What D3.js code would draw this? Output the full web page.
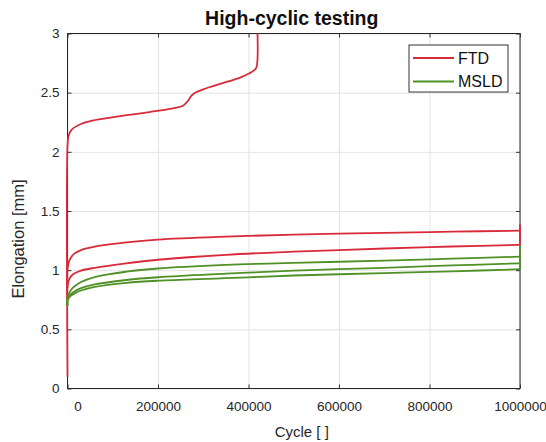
<!DOCTYPE html>
<html>
<head>
<meta charset="utf-8">
<style>
  body { margin: 0; background: #fff; }
  svg { font-family: "Liberation Sans", Arial, Helvetica, sans-serif; }
  .grid line { stroke: #e3e3e3; }
  .grid .domain { display: none; }
  .axis .domain { display: none; }
  .axis line { stroke: #333; }
  .axis text { fill: #262626; font-size: 13.5px; }
</style>
</head>
<body>
<svg id="chart" width="546" height="442"></svg>
<script src="https://cdn.jsdelivr.net/npm/d3@7"></script>
<script>
// tick values
var xTicks = [0, 200000, 400000, 600000, 800000, 1000000];
var yTicks = [0, 0.5, 1, 1.5, 2, 2.5, 3];

// FTD runs: [cycle, elongation]
var ftdA = [[0, 0.1], [0, 2.05], [2000, 2.13], [6000, 2.17], [13000, 2.2], [30000, 2.235], [57000, 2.265],
  [95000, 2.29], [131000, 2.31], [170000, 2.33], [205000, 2.35], [235000, 2.37], [255000, 2.39],
  [266000, 2.43], [274000, 2.475], [285000, 2.505], [305000, 2.535], [330000, 2.565], [355000, 2.595],
  [380000, 2.625], [400000, 2.66], [413000, 2.69], [418000, 2.72], [418000, 3.2]];
var ftdB = [[0, 0.85], [0, 1.0], [3000, 1.07], [8000, 1.11], [15000, 1.14], [30000, 1.17], [60000, 1.198],
  [130000, 1.234], [200000, 1.258], [350000, 1.283], [500000, 1.3], [700000, 1.315], [850000, 1.325],
  [1000000, 1.334]];
var ftdC = [[0, 0.75], [0, 0.86], [3000, 0.915], [8000, 0.95], [15000, 0.972], [30000, 0.997], [60000, 1.02],
  [130000, 1.058], [200000, 1.088], [350000, 1.13], [500000, 1.156], [700000, 1.183], [850000, 1.2],
  [1000000, 1.213]];
// unloading drops at the last cycle
var ftdBEnd = [[1000000, 1.334], [1000000, 1.38], [1000000, 1.21]];

// MSLD runs
var msldA = [[0, 0.7], [0, 0.76], [3000, 0.8], [8000, 0.835], [15000, 0.862], [30000, 0.9], [60000, 0.942],
  [130000, 0.987], [200000, 1.014], [350000, 1.044], [500000, 1.062], [700000, 1.08], [850000, 1.097],
  [1000000, 1.114]];
var msldB = [[0, 0.7], [0, 0.75], [3000, 0.775], [8000, 0.8], [15000, 0.82], [30000, 0.848], [60000, 0.88],
  [130000, 0.917], [200000, 0.94], [350000, 0.97], [500000, 0.996], [700000, 1.02], [850000, 1.04],
  [1000000, 1.058]];
var msldC = [[0, 0.7], [0, 0.74], [3000, 0.765], [8000, 0.785], [15000, 0.802], [30000, 0.828], [60000, 0.858],
  [130000, 0.893], [200000, 0.911], [350000, 0.932], [500000, 0.955], [700000, 0.975], [850000, 0.99],
  [1000000, 1.008]];
var msldCEnd = [[1000000, 1.008], [1000000, 1.21]];

var legendLabels = ["FTD", "MSLD"];
var colors = {FTD: "#d82a3a", MSLD: "#4f9126"};

var svg = d3.select("#chart"),
    margin = {top: 33.5, right: 26, bottom: 53.5, left: 67.5},
    width = +svg.attr("width") - margin.left - margin.right,
    height = +svg.attr("height") - margin.top - margin.bottom,
    g = svg.append("g").attr("transform", "translate(" + margin.left + "," + margin.top + ")");

var x = d3.scaleLinear().domain([0, 1000000]).range([0, width]);
var y = d3.scaleLinear().domain([0, 3]).range([height, 0]);

// grid
g.append("g").attr("class", "grid")
    .call(d3.axisBottom(x).tickValues(xTicks).tickSize(height).tickFormat(""));
g.append("g").attr("class", "grid")
    .call(d3.axisLeft(y).tickValues(yTicks).tickSize(-width).tickFormat(""));

// clip at the top only (lines at x edges stay fully visible)
svg.append("defs").append("clipPath").attr("id", "clip")
  .append("rect").attr("x", -3).attr("width", width + 6).attr("height", height);

var smooth = d3.line()
    .x(function(d) { return x(d[0]); })
    .y(function(d) { return y(d[1]); })
    .curve(d3.curveCatmullRom.alpha(0.5));
var straight = d3.line()
    .x(function(d) { return x(d[0]); })
    .y(function(d) { return y(d[1]); });

var series = [
  {key: "FTD", pts: ftdA, line: smooth}, {key: "FTD", pts: ftdB, line: smooth},
  {key: "FTD", pts: ftdC, line: smooth}, {key: "FTD", pts: ftdBEnd, line: straight},
  {key: "MSLD", pts: msldA, line: smooth}, {key: "MSLD", pts: msldB, line: smooth},
  {key: "MSLD", pts: msldC, line: smooth}, {key: "MSLD", pts: msldCEnd, line: straight}
];

g.append("rect")
    .attr("width", width).attr("height", height)
    .attr("fill", "none").attr("stroke", "#262626").attr("stroke-width", 1);

g.append("g").attr("clip-path", "url(#clip)")
  .selectAll("path")
  .data(series)
  .enter().append("path")
    .attr("d", function(d) { return d.line(d.pts); })
    .attr("fill", "none")
    .attr("stroke", function(d) { return colors[d.key]; })
    .attr("stroke-width", 1.8)
    .attr("stroke-linejoin", "round");

// axes, ticks pointing inward
var xAxis = g.append("g").attr("class", "axis")
    .attr("transform", "translate(0," + height + ")")
    .call(d3.axisBottom(x).tickValues(xTicks).tickSize(-4).tickPadding(13).tickFormat(d3.format("d")));
xAxis.selectAll(".tick text").filter(function(d) { return d === 0; }).attr("dx", 10);

g.append("g").attr("class", "axis")
    .call(d3.axisTop(x).tickValues(xTicks).tickSize(-4).tickFormat(""));

g.append("g").attr("class", "axis")
    .call(d3.axisLeft(y).tickValues(yTicks).tickSize(-4).tickPadding(8).tickFormat(d3.format("")));
g.append("g").attr("class", "axis")
    .attr("transform", "translate(" + width + ",0)")
    .call(d3.axisRight(y).tickValues(yTicks).tickSize(-4).tickFormat(""));

// labels
svg.append("text")
    .attr("x", margin.left + width / 2 - 2).attr("y", 25)
    .attr("text-anchor", "middle").attr("font-weight", "bold")
    .attr("font-size", 19.5).attr("fill", "#111")
    .text("High-cyclic testing");

svg.append("text")
    .attr("x", margin.left + width / 2 + 8).attr("y", 437)
    .attr("text-anchor", "middle").attr("font-size", 15).attr("fill", "#262626")
    .text("Cycle [ ]");

svg.append("text")
    .attr("transform", "translate(24," + (margin.top + height / 2 + 28) + ") rotate(-90)")
    .attr("text-anchor", "middle").attr("font-size", 16.5).attr("fill", "#262626")
    .text("Elongation [mm]");

// legend
var lg = g.append("g").attr("transform", "translate(" + (width - 111) + ",11.5)");
lg.append("rect")
    .attr("width", 99).attr("height", 47)
    .attr("fill", "#fff").attr("stroke", "#333").attr("stroke-width", 1);
var item = lg.selectAll(".item")
    .data(legendLabels)
    .enter().append("g")
    .attr("transform", function(d, i) { return "translate(0," + (13 + i * 23.5) + ")"; });
item.append("line")
    .attr("x1", 4).attr("x2", 45)
    .attr("stroke", function(d) { return colors[d]; }).attr("stroke-width", 1.8);
item.append("text")
    .attr("x", 49).attr("dy", "0.36em")
    .attr("font-size", 16).attr("fill", "#111")
    .text(function(d) { return d; });
</script>
</body>
</html>
